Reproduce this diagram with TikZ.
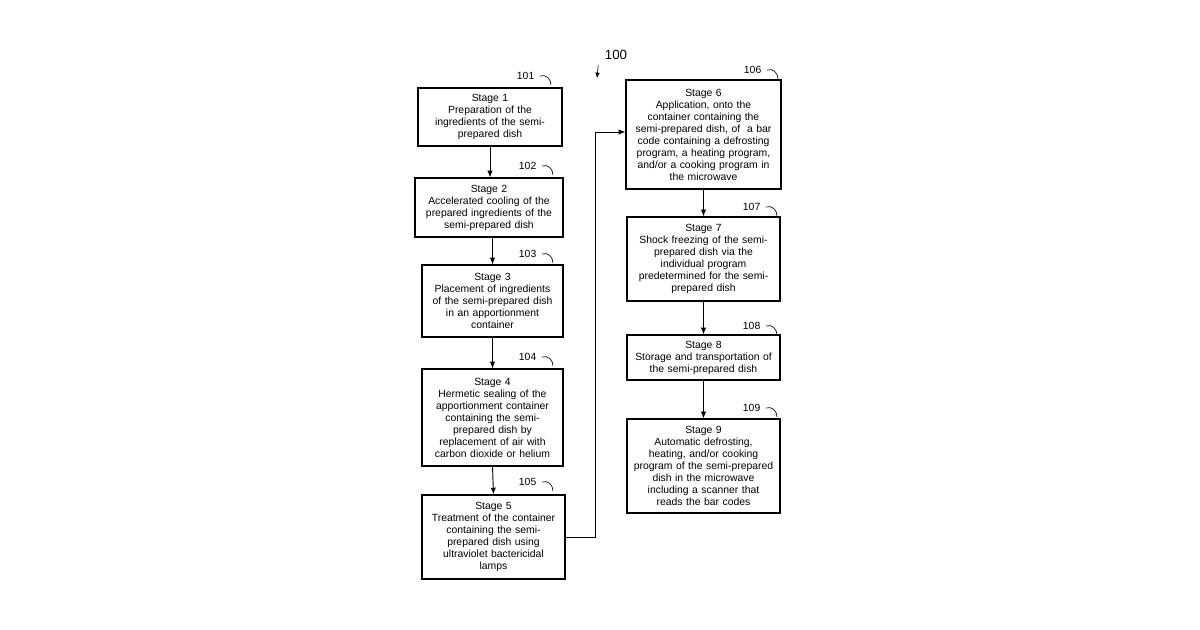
\documentclass[tikz,border=0pt]{standalone}
\usepackage{fontspec}
\setmainfont{Liberation Sans}
\usetikzlibrary{arrows.meta}

\tikzset{
  stage/.style={draw, line width=0.9pt, align=center, inner sep=1pt,
    font=\fontsize{7.8}{9}\selectfont},
  flow/.style={-{Latex[length=5pt,width=4pt]}, line width=0.7pt},
  ref/.style={font=\fontsize{7.8}{9}\selectfont}
}

% reference numeral with a small hook to the box corner
\newcommand{\refmark}[3]{%
  \node[ref, anchor=east] (#1) at (#2) {#3};
  \draw[line width=0.5pt] (#1.east) ++(1,0) .. controls ++(6,-2) and ++(0,-6) .. ++(11,9);
}

\begin{document}
\begin{tikzpicture}[x=0.75pt, y=-0.75pt]
  \useasboundingbox (0,0) rectangle (1200,630);

  %% Left column
  \node[stage, minimum width=108pt, minimum height=43.5pt, text width=102pt] (s1) at (490,117)
    {Stage 1\\Preparation of the\\ingredients of the semi-\\prepared dish};
  \node[stage, minimum width=111pt, minimum height=44.25pt, text width=106pt] (s2) at (489,207.5)
    {Stage 2\\Accelerated cooling of the\\prepared ingredients of the\\semi-prepared dish};
  \node[stage, minimum width=105.75pt, minimum height=54pt, text width=100pt] (s3) at (492.5,301)
    {Stage 3\\Placement of ingredients\\of the semi-prepared dish\\in an apportionment\\container};
  \node[stage, minimum width=105.75pt, minimum height=72.75pt, text width=100pt] (s4) at (492.5,417.5)
    {Stage 4\\Hermetic sealing of the\\apportionment container\\containing the semi-\\prepared dish by\\replacement of air with\\carbon dioxide or helium};
  \node[stage, minimum width=107.25pt, minimum height=63pt, text width=102pt] (s5) at (493.5,537)
    {Stage 5\\Treatment of the container\\containing the semi-\\prepared dish using\\ultraviolet bactericidal\\lamps};

  %% Right column
  \node[stage, minimum width=116.25pt, minimum height=81.75pt, text width=112pt] (s6) at (703.5,134.5)
    {Stage 6\\Application, onto the\\container containing the\\semi-prepared dish, of\ \ a bar\\code containing a defrosting\\program, a heating program,\\and/or a cooking program in\\the microwave};
  \node[stage, minimum width=114.75pt, minimum height=63pt, text width=110pt] (s7) at (703.5,259)
    {Stage 7\\Shock freezing of the semi-\\prepared dish via the\\individual program\\predetermined for the semi-\\prepared dish};
  \node[stage, minimum width=114.75pt, minimum height=33.75pt, text width=110pt] (s8) at (703.5,357.5)
    {Stage 8\\Storage and transportation of\\the semi-prepared dish};
  \node[stage, minimum width=114.75pt, minimum height=70.5pt, text width=110pt] (s9) at (703.5,466)
    {Stage 9\\Automatic defrosting,\\heating, and/or cooking\\program of the semi-prepared\\dish in the microwave\\including a scanner that\\reads the bar codes};

  %% Reference numerals
  \refmark{r101}{539,76}{101}
  \refmark{r102}{541,166}{102}
  \refmark{r103}{541,254}{103}
  \refmark{r104}{541,357}{104}
  \refmark{r105}{541,482}{105}
  \refmark{r106}{766,70}{106}
  \refmark{r107}{765,207}{107}
  \refmark{r108}{765,326}{108}
  \refmark{r109}{765,408}{109}

  \node[ref, font=\fontsize{10}{12}\selectfont] (r100) at (616,55) {100};
  \coordinate (p100) at (597,78);
  \draw[-{Latex[length=4pt,width=3.5pt]}, line width=0.5pt] (r100.south west) ++(-2,1) -- (p100);

  %% Connectors
  \draw[flow] (s1.south) -- (s1.south |- s2.north);
  \draw[flow] (s2.south -| s3.north) -- (s3.north);
  \draw[flow] (s3.south) -- (s4.north);
  \draw[flow] (s4.south) -- (s5.north);
  \coordinate (bend) at (595,132);
  \draw[flow] (s5.east) -| (bend) -- (bend -| s6.west);
  \draw[flow] (s6.south) -- (s7.north);
  \draw[flow] (s7.south) -- (s8.north);
  \draw[flow] (s8.south) -- (s9.north);
\end{tikzpicture}
\end{document}
